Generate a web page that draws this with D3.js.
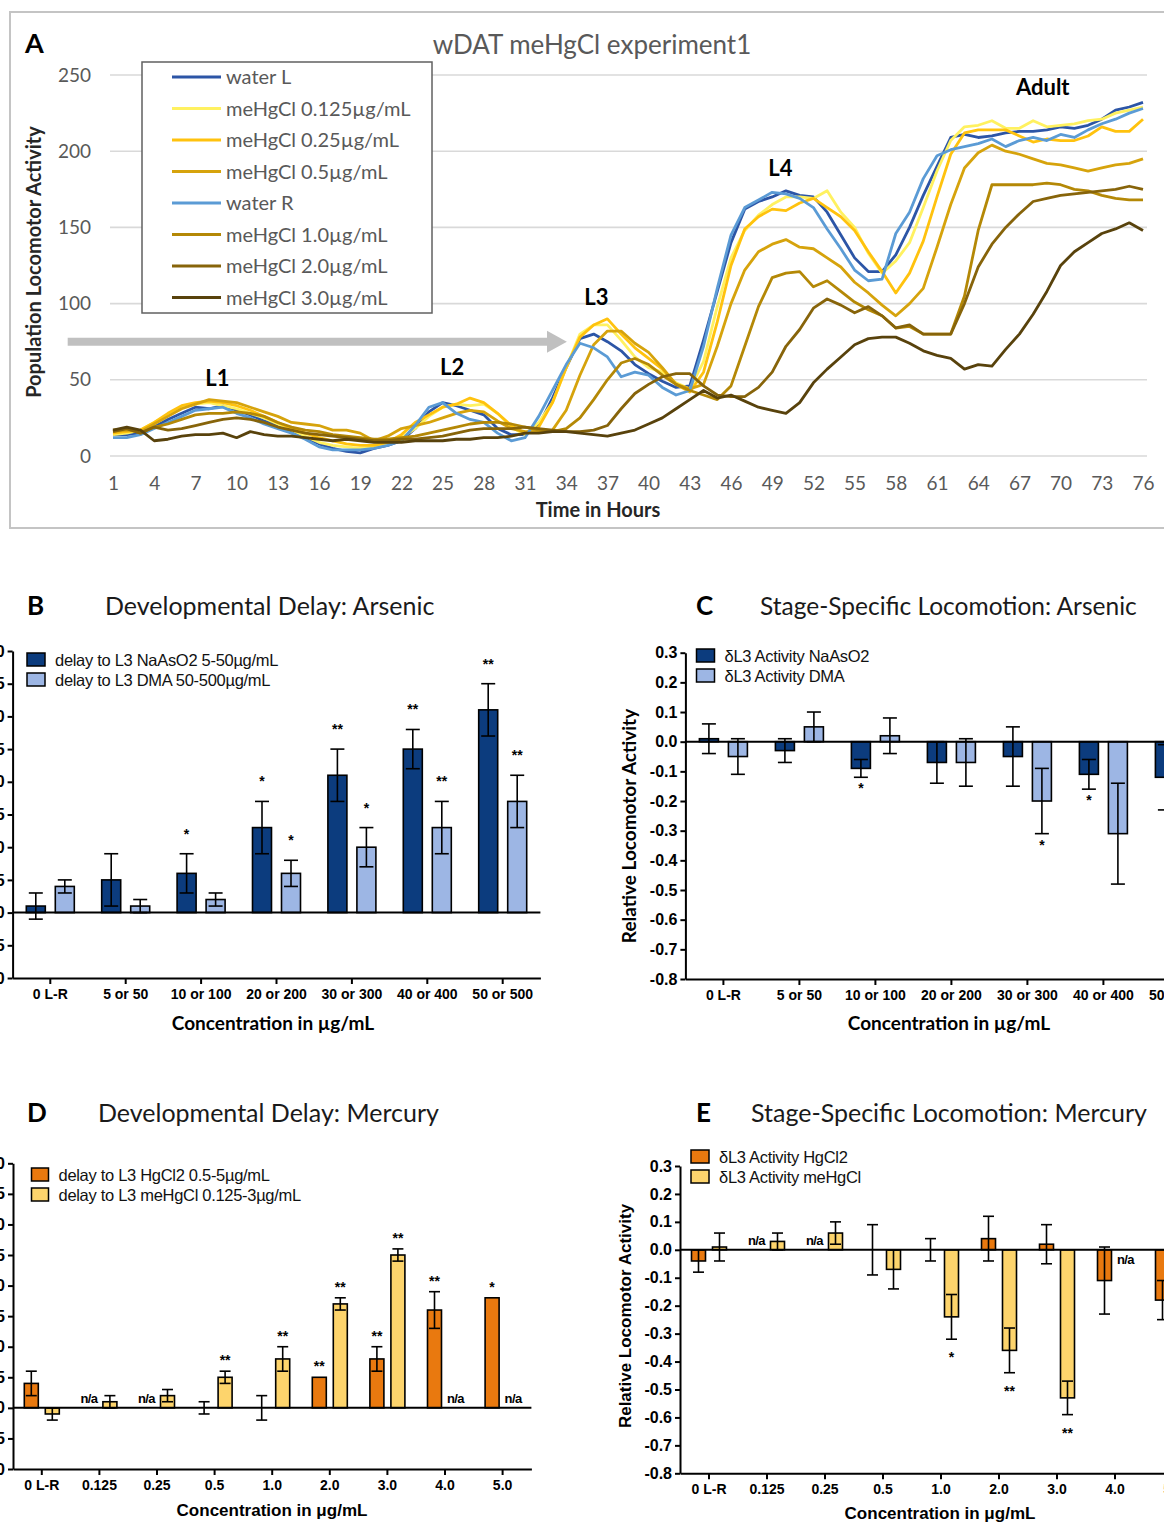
<!DOCTYPE html>
<html>
<head>
<meta charset="utf-8">
<script src="https://cdn.jsdelivr.net/npm/d3@7"></script>
<style>
  body { margin: 0; background: #fff; }
  svg { display: block; }
  .calib { font-family: Lato, "Open Sans", sans-serif; }
  .arial { font-family: "Liberation Sans", Arial, sans-serif; }
</style>
</head>
<body>
<svg id="fig" width="1164" height="1523"></svg>
<script>
// ---- Panel A : locomotor activity per hour ----
const hours = d3.range(1, 77);
const hourTicks = d3.range(1, 77, 3);
const activityTicks = [0, 50, 100, 150, 200, 250];

const seriesNames = ['water L', 'meHgCl 0.125µg/mL', 'meHgCl 0.25µg/mL', 'meHgCl 0.5µg/mL',
  'water R', 'meHgCl 1.0µg/mL', 'meHgCl 2.0µg/mL', 'meHgCl 3.0µg/mL'];

const waterL = [14, 14, 15, 19, 24, 28, 32, 31, 33, 30,
  27, 23, 20, 16, 12, 8, 5, 3, 2, 5,
  7, 10, 18, 29, 35, 33, 30, 27, 18, 14,
  14, 20, 38, 58, 77, 80, 75, 69, 60, 54,
  49, 45, 46, 76, 108, 140, 162, 167, 170, 174,
  171, 170, 160, 145, 130, 121, 121, 132, 150, 171,
  190, 209, 211, 209, 210, 212, 213, 213, 214, 216,
  215, 217, 221, 227, 229, 232];
const meHg0125 = [14, 15, 17, 22, 27, 32, 34, 35, 33, 31,
  28, 25, 21, 17, 13, 9, 7, 6, 5, 6,
  8, 12, 18, 26, 32, 34, 33, 34, 28, 19,
  14, 22, 35, 58, 80, 86, 86, 76, 65, 58,
  55, 48, 44, 62, 98, 130, 148, 158, 165, 170,
  170, 169, 174, 160, 150, 133, 120, 128, 140, 163,
  187, 207, 216, 217, 220, 215, 215, 220, 216, 217,
  218, 220, 221, 225, 227, 229];
const meHg025 = [15, 16, 17, 22, 28, 33, 35, 36, 35, 33,
  30, 26, 22, 18, 15, 12, 10, 8, 7, 7,
  9, 14, 22, 27, 32, 34, 38, 35, 28, 20,
  15, 19, 35, 58, 78, 86, 90, 80, 71, 64,
  57, 47, 42, 55, 88, 125, 149, 157, 162, 161,
  166, 169, 163, 157, 148, 134, 121, 107, 120, 141,
  170, 198, 212, 214, 214, 214, 210, 206, 208, 207,
  207, 210, 216, 213, 213, 221];
const meHg05 = [16, 17, 16, 21, 26, 31, 34, 37, 36, 35,
  32, 29, 26, 22, 21, 20, 17, 17, 15, 10,
  13, 18, 20, 22, 25, 28, 30, 29, 23, 18,
  16, 16, 17, 30, 53, 73, 82, 82, 74, 68,
  58, 47, 44, 47, 72, 100, 122, 134, 139, 142,
  137, 136, 130, 124, 114, 107, 99, 92, 100, 110,
  137, 165, 189, 199, 204, 200, 198, 195, 192, 191,
  189, 187, 189, 191, 192, 195];
const waterR = [12, 12, 14, 18, 22, 26, 30, 31, 32, 28,
  25, 21, 18, 15, 11, 6, 4, 4, 4, 5,
  7, 10, 20, 32, 35, 28, 24, 22, 15, 10,
  12, 26, 43, 60, 74, 71, 65, 52, 55, 53,
  45, 40, 43, 72, 110, 145, 163, 168, 173, 172,
  169, 163, 149, 136, 122, 115, 116, 146, 160, 182,
  197, 201, 203, 205, 208, 203, 207, 209, 207, 211,
  209, 214, 218, 221, 225, 228];
const meHg10 = [17, 18, 15, 19, 21, 24, 27, 28, 28, 29,
  28, 26, 22, 19, 17, 16, 14, 13, 12, 11,
  11, 12, 13, 15, 17, 19, 21, 22, 22, 21,
  19, 17, 16, 18, 25, 37, 50, 61, 64, 60,
  53, 47, 43, 40, 37, 46, 72, 98, 117, 120,
  121, 111, 115, 108, 101, 96, 92, 84, 85, 80,
  80, 80, 105, 148, 178, 178, 178, 178, 179, 178,
  175, 174, 171, 169, 168, 168];
const meHg20 = [16, 18, 15, 19, 17, 18, 20, 22, 24, 25,
  24, 22, 19, 17, 15, 14, 13, 12, 11, 10,
  10, 11, 11, 12, 13, 15, 17, 18, 18, 18,
  19, 18, 17, 16, 16, 17, 20, 31, 41, 47,
  52, 54, 54, 46, 40, 39, 39, 45, 55, 72,
  83, 97, 103, 99, 94, 98, 92, 84, 86, 80,
  80, 80, 100, 124, 139, 150, 159, 167, 169, 171,
  172, 173, 174, 175, 177, 175];
const meHg30 = [17, 19, 17, 10, 11, 13, 14, 14, 15, 12,
  16, 14, 13, 13, 12, 11, 10, 11, 10, 9,
  9, 9, 10, 10, 10, 11, 11, 12, 12, 13,
  15, 15, 16, 16, 15, 14, 13, 15, 17, 21,
  25, 31, 37, 43, 38, 40, 36, 32, 30, 28,
  35, 48, 57, 65, 73, 77, 78, 78, 74, 69,
  66, 64, 57, 60, 59, 70, 80, 93, 108, 125,
  134, 140, 146, 149, 153, 148];

const seriesValues = [waterL, meHg0125, meHg025, meHg05, waterR, meHg10, meHg20, meHg30];
const seriesColors = ['#2c55a6', '#fff160', '#ffc20e', '#d6a30c', '#5b9bd5', '#b48806', '#87640a', '#58420c'];

const stageLabels = ['L1', 'L2', 'L3', 'L4', 'Adult'];
const stageAt = [[8.6, 46], [25.7, 53], [36.2, 99], [49.6, 184], [68.7, 237]];

// ---- Panels B-E : bar charts ----
const catArsenic = ['0 L-R', '5 or 50', '10 or 100', '20 or 200', '30 or 300', '40 or 400', '50 or 500'];
const catMercury = ['0 L-R', '0.125', '0.25', '0.5', '1.0', '2.0', '3.0', '4.0', '5.0'];
const delayTicks = [-10, -5, 0, 5, 10, 15, 20, 25, 30, 35, 40];
const relTicks = d3.range(-8, 4).map(d => d / 10);

const delayNaAsO2 = [1, 5, 6, 13, 21, 25, 31];
const delayNaAsO2Err = [2, 4, 3, 4, 4, 3, 4];
const delayNaAsO2Sig = ['', '', '*', '*', '**', '**', '**'];
const delayDMA = [4, 1, 2, 6, 10, 13, 17];
const delayDMAErr = [1, 1, 1, 2, 3, 4, 4];
const delayDMASig = ['', '', '', '*', '*', '**', '**'];

const actNaAsO2 = [0.01, -0.03, -0.09, -0.07, -0.05, -0.11, -0.12];
const actNaAsO2Err = [0.05, 0.04, 0.03, 0.07, 0.10, 0.05, 0.11];
const actNaAsO2Sig = ['', '', '*', '', '', '*', ''];
const actDMA = [-0.05, 0.05, 0.02, -0.07, -0.20, -0.31, -0.30];
const actDMAErr = [0.06, 0.05, 0.06, 0.08, 0.11, 0.17, 0.10];
const actDMASig = ['', '', '', '', '*', '', ''];

const delayHgCl2 = [4, null, null, 0, 0, 5, 8, 16, 18];
const delayHgCl2Err = [2, 0, 0, 1, 2, 0, 2, 3, 0];
const delayHgCl2Sig = ['', '', '', '', '', '**', '**', '**', '*'];
const delayMeHgCl = [-1, 1, 2, 5, 8, 17, 25, null, null];
const delayMeHgClErr = [1, 1, 1, 1, 2, 1, 1, 0, 0];
const delayMeHgClSig = ['', '', '', '**', '**', '**', '**', '', ''];

const actHgCl2 = [-0.04, null, null, 0, 0, 0.04, 0.02, -0.11, -0.18];
const actHgCl2Err = [0.04, 0, 0, 0.09, 0.04, 0.08, 0.07, 0.12, 0.07];
const actHgCl2Sig = ['', '', '', '', '', '', '', '', ''];
const actMeHgCl = [0.01, 0.03, 0.06, -0.07, -0.24, -0.36, -0.53, null, null];
const actMeHgClErr = [0.05, 0.03, 0.04, 0.07, 0.08, 0.08, 0.06, 0, 0];
const actMeHgClSig = ['', '', '', '', '*', '**', '**', '', ''];

const svg = d3.select('#fig');

// ================= Panel A =================
const xA = d3.scaleLinear().domain([1, 76]).range([113, 1143]);
const yA = d3.scaleLinear().domain([0, 250]).range([456, 75]);

svg.append('rect')
  .attr('x', 10).attr('y', 12).attr('width', 1170).attr('height', 516)
  .attr('fill', 'none').attr('stroke', '#c4c4c4').attr('stroke-width', 2);

svg.append('g').selectAll('line')
  .data(activityTicks).enter().append('line')
  .attr('x1', 110).attr('x2', 1147)
  .attr('y1', d => yA(d)).attr('y2', d => yA(d))
  .attr('stroke', '#d9d9d9').attr('stroke-width', 1.6);

const yAxisA = svg.append('g')
  .attr('transform', 'translate(101,0)')
  .call(d3.axisLeft(yA).tickValues(activityTicks).tickSize(0).tickPadding(10));
yAxisA.select('.domain').remove();
yAxisA.selectAll('text').attr('class', 'calib').style('font-size', '19px').attr('fill', '#595959');

const xAxisA = svg.append('g')
  .attr('transform', 'translate(0,456)')
  .call(d3.axisBottom(xA).tickValues(hourTicks).tickSize(0).tickPadding(21));
xAxisA.select('.domain').remove();
xAxisA.selectAll('text').attr('class', 'calib').style('font-size', '19px').attr('fill', '#595959');

// grey arrow toward L3
svg.append('line')
  .attr('x1', xA(-2.3)).attr('x2', xA(32.7))
  .attr('y1', yA(75)).attr('y2', yA(75))
  .attr('stroke', '#c0c0c0').attr('stroke-width', 8);
svg.append('path')
  .attr('d', `M${xA(32.6)},${yA(75) - 11}L${xA(34.05)},${yA(75)}L${xA(32.6)},${yA(75) + 11}Z`)
  .attr('fill', '#c0c0c0');

const lineA = d3.line()
  .x((d, i) => xA(hours[i]))
  .y(d => yA(d));

svg.append('g').selectAll('path')
  .data(seriesValues).enter().append('path')
  .attr('d', d => lineA(d))
  .attr('fill', 'none')
  .attr('stroke', (d, i) => seriesColors[i])
  .attr('stroke-width', 2.8)
  .attr('stroke-linejoin', 'round');

svg.append('g').selectAll('text')
  .data(stageLabels).enter().append('text')
  .attr('class', 'calib')
  .attr('x', (d, i) => xA(stageAt[i][0]))
  .attr('y', (d, i) => yA(stageAt[i][1]))
  .attr('text-anchor', 'middle')
  .style('font-size', '22px').style('font-weight', 'bold')
  .text(d => d);

// legend A
const legA = svg.append('g');
legA.append('rect')
  .attr('x', 142).attr('y', 62).attr('width', 290).attr('height', 251)
  .attr('fill', '#fff').attr('stroke', '#606060').attr('stroke-width', 1.5);
seriesNames.forEach((name, i) => {
  const yy = 77 + i * 31.5;
  legA.append('line').attr('x1', 172).attr('x2', 221).attr('y1', yy).attr('y2', yy)
    .attr('stroke', seriesColors[i]).attr('stroke-width', 3);
  legA.append('text').attr('class', 'calib').attr('x', 226).attr('y', yy + 7)
    .style('font-size', '20px').attr('fill', '#595959').text(name);
});

svg.append('text').attr('class', 'calib')
  .attr('x', 592).attr('y', 54).attr('text-anchor', 'middle')
  .style('font-size', '26px').attr('fill', '#595959')
  .text('wDAT meHgCl experiment1');
svg.append('text').attr('class', 'calib')
  .attr('x', 25).attr('y', 53)
  .style('font-size', '27px').style('font-weight', 'bold')
  .text('A');
svg.append('text').attr('class', 'calib')
  .attr('transform', 'translate(41,262) rotate(-90)')
  .attr('text-anchor', 'middle')
  .style('font-size', '20px').style('font-weight', 'bold').attr('fill', '#262626')
  .text('Population Locomotor Activity');
svg.append('text').attr('class', 'calib')
  .attr('x', 598).attr('y', 517).attr('text-anchor', 'middle')
  .style('font-size', '20px').style('font-weight', 'bold').attr('fill', '#262626')
  .text('Time in Hours');

// ================= Bar panels =================
function barPanel(o) {
  const g = svg.append('g');
  const x = d3.scaleBand().domain(o.cats).range([o.x0, o.x0 + o.band * o.cats.length]);
  const y = d3.scaleLinear().domain(o.yDomain).range([o.yBottom, o.yTop]);

  g.append('text').attr('class', 'calib').attr('x', o.letterX).attr('y', o.titleY)
    .style('font-size', '26px').style('font-weight', 'bold').text(o.letter);
  g.append('text').attr('class', 'calib').attr('x', o.titleX).attr('y', o.titleY)
    .style('font-size', o.titleSize + 'px').attr('fill', '#1a1a1a').text(o.title);

  const ya = g.append('g').attr('transform', `translate(${o.x0},0)`)
    .call(d3.axisLeft(y).tickValues(o.ticks).tickFormat(o.fmt).tickSize(5).tickSizeOuter(0).tickPadding(3));
  const xa = g.append('g').attr('transform', `translate(0,${o.yBottom})`)
    .call(d3.axisBottom(x).tickSize(6).tickSizeOuter(0).tickPadding(5));
  [ya, xa].forEach(a => {
    a.selectAll('path,line').attr('stroke', '#000').attr('stroke-width', 2);
    a.selectAll('text').attr('class', 'arial').attr('fill', '#000').style('font-weight', 'bold');
  });
  ya.selectAll('text').style('font-size', '16px');
  xa.selectAll('text').style('font-size', '14px');

  const step = x.bandwidth();
  o.series.forEach((s, si) => {
    const off = si === 0 ? -o.off : o.off;
    const other = o.series[1 - si].values;
    s.values.forEach((v, i) => {
      const cx = x(o.cats[i]) + step / 2 + off;
      if (v === null) {
        const below = other[i] !== null && other[i] < 0;
        g.append('text').attr('class', 'arial')
          .attr('x', cx).attr('y', below ? y(0) + 14 : y(0) - 5)
          .attr('text-anchor', 'middle')
          .style('font-size', '13px').style('font-weight', 'bold').style('letter-spacing', '-0.6px')
          .text('n/a');
        return;
      }
      if (v !== 0) {
        g.append('rect')
          .attr('x', cx - o.bw / 2).attr('width', o.bw)
          .attr('y', y(Math.max(v, 0))).attr('height', Math.abs(y(v) - y(0)))
          .attr('fill', s.color).attr('stroke', '#000').attr('stroke-width', 1.6);
      }
      const e = s.err[i];
      if (e > 0) {
        const eg = g.append('g').attr('stroke', '#000').attr('stroke-width', 1.6);
        eg.append('line').attr('x1', cx).attr('x2', cx).attr('y1', y(v - e)).attr('y2', y(v + e));
        [v - e, v + e].forEach(t => {
          eg.append('line').attr('x1', cx - o.cap).attr('x2', cx + o.cap).attr('y1', y(t)).attr('y2', y(t));
        });
      }
      if (s.sig[i]) {
        const yy = v >= 0 ? y(v + e) - o.sigAbove : y(v - e) + o.sigBelow;
        g.append('text').attr('class', 'arial')
          .attr('x', cx).attr('y', yy).attr('text-anchor', 'middle')
          .style('font-size', '14px').style('font-weight', 'bold')
          .text(s.sig[i]);
      }
    });
  });

  // baseline at zero
  g.append('line')
    .attr('x1', o.x0).attr('x2', x.range()[1])
    .attr('y1', y(0)).attr('y2', y(0))
    .attr('stroke', '#000').attr('stroke-width', 2);

  // legend
  o.series.forEach((s, si) => {
    const ly = o.legY + si * 20;
    g.append('rect').attr('x', o.legX).attr('y', ly).attr('width', o.legW).attr('height', 13)
      .attr('fill', s.color).attr('stroke', '#000').attr('stroke-width', 1.5);
    g.append('text').attr('class', 'arial')
      .attr('x', o.legX + o.legW + 10).attr('y', ly + 12.5)
      .style('font-size', '16.5px').style('letter-spacing', '-0.3px').attr('fill', '#111')
      .text(s.name);
  });

  if (o.yTitle) {
    g.append('text').attr('class', o.yTitleClass)
      .attr('transform', `translate(${o.yTitleX},${o.yTitleY}) rotate(-90)`)
      .attr('text-anchor', 'middle')
      .style('font-size', o.yTitleSize + 'px').style('font-weight', 'bold')
      .text(o.yTitle);
  }
  g.append('text').attr('class', o.xTitleClass)
    .attr('x', o.xTitleX).attr('y', o.xTitleY).attr('text-anchor', 'middle')
    .style('font-size', o.xTitleSize + 'px').style('font-weight', 'bold')
    .text(o.xTitle);
}

const navy = '#0c3c7e', lightBlue = '#9db6e4', orange = '#e9790f', paleYellow = '#fdd46c';

barPanel({
  letter: 'B', letterX: 27, titleX: 105, titleY: 615, titleSize: 25,
  title: 'Developmental Delay: Arsenic',
  cats: catArsenic, x0: 12.6, band: 75.4, bw: 19, off: 14.5, cap: 7,
  yDomain: [-10, 40], yBottom: 978, yTop: 651, ticks: delayTicks, fmt: d => String(d),
  series: [
    { name: 'delay to L3 NaAsO2 5-50µg/mL', values: delayNaAsO2, err: delayNaAsO2Err, sig: delayNaAsO2Sig, color: navy },
    { name: 'delay to L3 DMA 50-500µg/mL', values: delayDMA, err: delayDMAErr, sig: delayDMASig, color: lightBlue }
  ],
  sigAbove: 15, sigBelow: 20,
  legX: 27, legY: 653, legW: 18,
  xTitle: 'Concentration in µg/mL', xTitleX: 273, xTitleY: 1030, xTitleSize: 19, xTitleClass: 'calib'
});

barPanel({
  letter: 'C', letterX: 696, titleX: 760, titleY: 615, titleSize: 24.5,
  title: 'Stage-Specific Locomotion: Arsenic',
  cats: catArsenic, x0: 685.4, band: 76, bw: 19, off: 14.5, cap: 7,
  yDomain: [-0.8, 0.3], yBottom: 979, yTop: 652.7, ticks: relTicks, fmt: d => d.toFixed(1),
  series: [
    { name: 'δL3 Activity NaAsO2', values: actNaAsO2, err: actNaAsO2Err, sig: actNaAsO2Sig, color: navy },
    { name: 'δL3 Activity DMA', values: actDMA, err: actDMAErr, sig: actDMASig, color: lightBlue }
  ],
  sigAbove: 15, sigBelow: 16,
  legX: 696.5, legY: 649, legW: 18,
  yTitle: 'Relative Locomotor Activity', yTitleX: 636, yTitleY: 826, yTitleSize: 19, yTitleClass: 'calib',
  xTitle: 'Concentration in µg/mL', xTitleX: 949, xTitleY: 1030, xTitleSize: 19, xTitleClass: 'calib'
});

barPanel({
  letter: 'D', letterX: 27, titleX: 98, titleY: 1122, titleSize: 25,
  title: 'Developmental Delay: Mercury',
  cats: catMercury, x0: 13, band: 57.6, bw: 14, off: 10.5, cap: 5.5,
  yDomain: [-10, 40], yBottom: 1469, yTop: 1163.3, ticks: delayTicks, fmt: d => String(d),
  series: [
    { name: 'delay to L3 HgCl2 0.5-5µg/mL', values: delayHgCl2, err: delayHgCl2Err, sig: delayHgCl2Sig, color: orange },
    { name: 'delay to L3 meHgCl 0.125-3µg/mL', values: delayMeHgCl, err: delayMeHgClErr, sig: delayMeHgClSig, color: paleYellow }
  ],
  sigAbove: 6, sigBelow: 20,
  legX: 31.5, legY: 1168, legW: 17,
  xTitle: 'Concentration in μg/mL', xTitleX: 272, xTitleY: 1516, xTitleSize: 17, xTitleClass: 'arial'
});

barPanel({
  letter: 'E', letterX: 696, titleX: 751, titleY: 1122, titleSize: 25,
  title: 'Stage-Specific Locomotion: Mercury',
  cats: catMercury, x0: 680, band: 58, bw: 14, off: 10.5, cap: 5.5,
  yDomain: [-0.8, 0.3], yBottom: 1473.3, yTop: 1166, ticks: relTicks, fmt: d => d.toFixed(1),
  series: [
    { name: 'δL3 Activity HgCl2', values: actHgCl2, err: actHgCl2Err, sig: actHgCl2Sig, color: orange },
    { name: 'δL3 Activity meHgCl', values: actMeHgCl, err: actMeHgClErr, sig: actMeHgClSig, color: paleYellow }
  ],
  sigAbove: 6, sigBelow: 23,
  legX: 691, legY: 1150, legW: 18,
  yTitle: 'Relative Locomotor Activity', yTitleX: 631, yTitleY: 1316, yTitleSize: 17, yTitleClass: 'arial',
  xTitle: 'Concentration in μg/mL', xTitleX: 940, xTitleY: 1519, xTitleSize: 17, xTitleClass: 'arial'
});
</script>
</body>
</html>
